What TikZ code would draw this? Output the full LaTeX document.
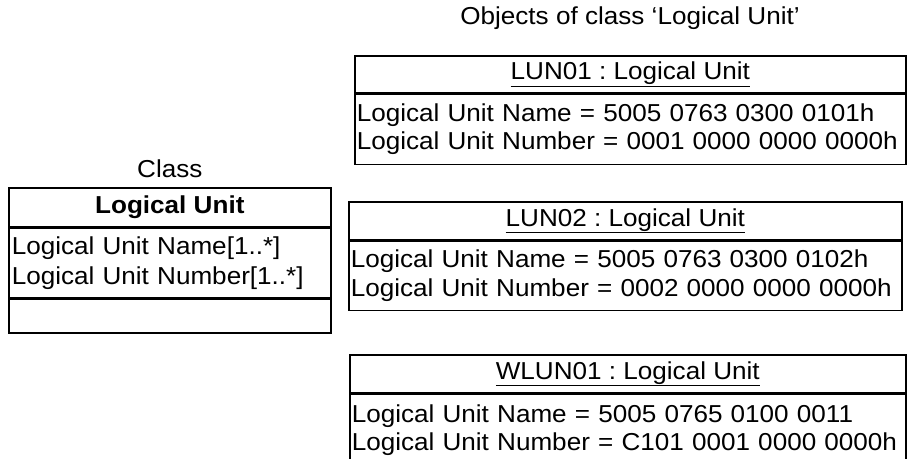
\documentclass[tikz,border=0pt]{standalone}
\usepackage{fontspec}
\setmainfont[FakeStretch=1.065]{Liberation Sans}
\usepackage{tikz}
\usetikzlibrary{positioning}

\begin{document}
\frenchspacing
\begin{tikzpicture}
                        [x=1pt, y=-1pt,
                         every node/.style={font=\fontsize{24.5}{28.5}\selectfont, inner sep=0pt},
                         umlhead/.style={draw, line width=1.6pt, anchor=north west},
                         umlattr/.style={draw, line width=1.6pt, align=left, inner xsep=2pt, text width=#1}]
                        \useasboundingbox (0,0) rectangle (907,458);

                        % Class
                        \node[umlhead, minimum width=322pt, minimum height=39pt] (cls) at (8,187) {\textbf{Logical Unit}};
                        \node[umlattr=316pt, minimum height=69pt, below=0pt of cls,
                              font=\fontsize{24.5}{30}\selectfont, inner xsep=3pt] (clsattr)
                            {Logical Unit Name[1..*]\\Logical Unit Number[1..*]};
                        \node[draw, line width=1.6pt, minimum width=322pt, minimum height=34pt, below=0pt of clsattr] (clsops) {};
                        \node[above=9pt of cls] (clslabel) {Class};

                        % Objects
                        \node (objlabel) at (630,18) {Objects of class ‘Logical Unit’};

                        \node[umlhead, minimum width=551pt, minimum height=37pt] (lun01) at (354,55) {\underline{LUN01 : Logical Unit}};
                        \node[umlattr=547pt, minimum height=70pt, below=0pt of lun01] (lun01attr)
                            {Logical Unit Name = 5005 0763 0300 0101h\\Logical Unit Number = 0001 0000 0000 0000h};

                        \node[umlhead, minimum width=553pt, minimum height=38pt] (lun02) at (348,201) {\underline{LUN02 : Logical Unit}};
                        \node[umlattr=549pt, minimum height=69pt, below=0pt of lun02] (lun02attr)
                            {Logical Unit Name = 5005 0763 0300 0102h\\Logical Unit Number = 0002 0000 0000 0000h};

                        \node[umlhead, minimum width=556pt, minimum height=38pt] (wlun01) at (349,354) {\underline{WLUN01 : Logical Unit}};
                        \node[umlattr=552pt, minimum height=72pt, below=0pt of wlun01] (wlun01attr)
                            {Logical Unit Name = 5005 0765 0100 0011\\Logical Unit Number = C101 0001 0000 0000h};
                    \end{tikzpicture}
\end{document}
